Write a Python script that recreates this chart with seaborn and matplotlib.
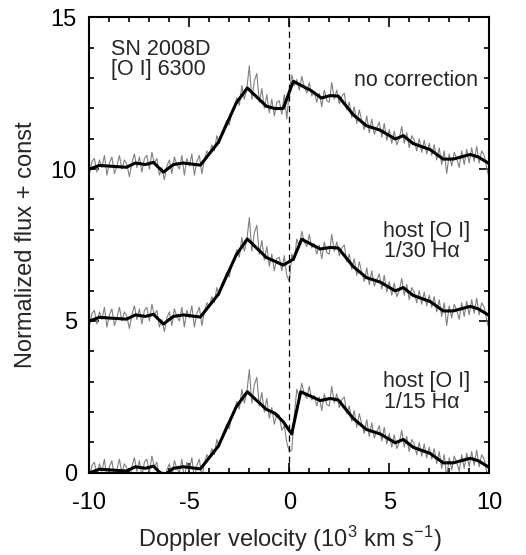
import numpy as np
import pandas as pd
import matplotlib
matplotlib.use("Agg")
import matplotlib.pyplot as plt
import seaborn as sns

# velocity grid of the raw spectrum (10^3 km/s), 0.125 step
velocity = np.round(np.arange(-10, 10.0001, 0.125), 3)

# raw [O I] profile, no host correction (flux relative to the continuum)
flux_raw = [
    -0.15, 0.25, 0.35, -0.10, 0.30, 0.05, 0.45, -0.20,
    0.20, 0.40, -0.15, 0.10, 0.45, 0.00, 0.30, 0.15,
    -0.25, 0.20, 0.50, 0.05, 0.40, -0.10, 0.35, 0.45,
    0.00, 0.55, 0.20, 0.35, -0.20, 0.05, -0.35, 0.10,
    0.30, -0.15, 0.40, 0.15, 0.00, 0.45, -0.20, 0.35,
    0.10, 0.50, -0.20, 0.25, 0.45, -0.15, 0.30, 0.60,
    0.45, 0.80, 0.60, 1.10, 0.85, 1.20, 1.40, 1.60,
    1.45, 1.90, 2.00, 2.35, 2.10, 2.75, 2.30, 2.65,
    3.40, 2.30, 2.90, 3.15, 2.20, 2.65, 2.00, 2.45,
    1.85, 2.30, 1.75, 2.20, 2.25, 1.80, 2.45, 1.65,
    2.60, 3.10, 2.75, 2.95, 2.60, 3.05, 2.70, 2.50,
    2.85, 2.40, 2.55, 2.20, 2.50, 2.05, 2.60, 2.25,
    2.20, 2.85, 2.30, 2.60, 2.15, 2.40, 2.50, 1.95,
    2.20, 1.70, 2.05, 1.50, 1.95, 1.60, 1.30, 1.75,
    1.20, 1.65, 1.15, 1.35, 1.55, 1.05, 1.50, 0.95,
    1.30, 0.85, 1.25, 0.80, 1.00, 1.40, 0.85, 1.20,
    0.70, 1.10, 0.95, 0.60, 1.00, 0.55, 0.95, 0.50,
    0.85, 0.45, 0.80, 0.30, 0.70, 0.15, 0.60, -0.15,
    0.50, 0.10, 0.55, 0.35, 0.05, 0.60, 0.15, 0.65,
    0.20, 0.70, 0.25, 0.75, 0.20, 0.60, 0.45, 0.05,
    -0.30,
]

# central part (-1.5 .. 1.5) after subtracting host [O I]
center_velocity = np.round(np.arange(-1.5, 1.5001, 0.125), 3)
flux_center_30 = [
    2.20, 2.65, 2.00, 2.45, 1.80, 2.20, 1.65, 2.05, 2.10, 1.65, 2.15, 1.50,
    1.30, 2.20, 2.00, 2.70, 2.45, 2.95, 2.60, 2.45, 2.85, 2.40, 2.55, 2.20, 2.50,
]
flux_center_15 = [
    2.20, 2.65, 2.00, 2.45, 1.80, 2.15, 1.60, 1.95, 1.90, 1.40, 1.55, 1.00,
    0.70, 0.75, 1.90, 2.75, 2.50, 2.95, 2.60, 2.45, 2.85, 2.40, 2.55, 2.20, 2.50,
]

# smoothed profiles
smooth_v_raw = [-10, -9.5, -8.15, -7.7, -7.2, -6.8, -6.3, -5.8, -5.3, -4.45, -3.55, -2.65, -2.1,
                -1.15, -0.7, -0.3, 0.2, 1.1, 1.6, 2.05, 2.45, 3.2, 3.85, 4.55, 5.3, 5.7, 6.2,
                7.05, 7.7, 8.2, 9.05, 9.45, 10]
smooth_f_raw = [0.0, 0.12, 0.06, 0.2, 0.15, 0.22, -0.1, 0.15, 0.2, 0.13, 0.88, 2.18, 2.67,
                2.07, 1.99, 2.0, 2.89, 2.58, 2.34, 2.42, 2.4, 1.79, 1.43, 1.28, 0.99, 1.1, 0.84,
                0.64, 0.33, 0.33, 0.48, 0.4, 0.18]
smooth_v_30 = [-10, -9.5, -8.15, -7.7, -7.2, -6.8, -6.3, -5.8, -5.3, -4.45, -3.55, -2.65, -2.1,
               -1.15, -0.3, 0.2, 0.62, 1.55, 2.05, 2.45, 3.2, 3.85, 4.55, 5.3, 5.7, 6.2,
               7.05, 7.7, 8.2, 9.05, 9.45, 10]
smooth_f_30 = [0.0, 0.12, 0.06, 0.2, 0.15, 0.22, -0.1, 0.15, 0.2, 0.13, 0.88, 2.18, 2.7,
               2.09, 1.84, 2.03, 2.69, 2.37, 2.42, 2.4, 1.79, 1.43, 1.28, 0.99, 1.1, 0.84,
               0.64, 0.33, 0.33, 0.48, 0.4, 0.18]
smooth_v_15 = [-10, -9.5, -8.15, -7.7, -7.2, -6.8, -6.3, -5.8, -5.3, -4.45, -3.55, -2.65, -2.1,
               -1.15, -0.72, -0.3, 0.12, 0.57, 1.55, 2.05, 2.45, 3.2, 3.85, 4.55, 5.3, 5.7, 6.2,
               7.05, 7.7, 8.2, 9.05, 9.45, 10]
smooth_f_15 = [0.0, 0.12, 0.06, 0.2, 0.15, 0.22, -0.1, 0.15, 0.2, 0.13, 0.88, 2.18, 2.67,
               2.09, 1.96, 1.68, 1.28, 2.67, 2.38, 2.45, 2.4, 1.79, 1.43, 1.28, 0.99, 1.1, 0.84,
               0.64, 0.33, 0.33, 0.48, 0.4, 0.18]

offsets = {"raw": 10, "30": 5, "15": 0}


def build_raw(center_flux):
    s = pd.Series(flux_raw, index=velocity, dtype=float)
    if center_flux is not None:
        s.loc[center_velocity] = center_flux
    return s


sns.set_style("ticks")
plt.rcParams['font.family'] = ['Liberation Sans', 'DejaVu Sans']
plt.rcParams['mathtext.fontset'] = 'custom'
plt.rcParams['mathtext.rm'] = 'Liberation Sans'
plt.rcParams['mathtext.it'] = 'Liberation Sans:italic'
plt.rcParams['axes.unicode_minus'] = False

fig = plt.figure(figsize=(5.26, 5.55), dpi=100)
ax = fig.add_axes([0.170, 0.148, 0.760, 0.821])

spectra = [
    ("raw", None, smooth_v_raw, smooth_f_raw),
    ("30", flux_center_30, smooth_v_30, smooth_f_30),
    ("15", flux_center_15, smooth_v_15, smooth_f_15),
]
for key, center, sv, sf in spectra:
    raw = build_raw(center) + offsets[key]
    sns.lineplot(x=raw.index, y=raw.values, color="#808080", lw=0.8, ax=ax)
    sns.lineplot(x=sv, y=np.array(sf) + offsets[key], color="black", lw=2.2, ax=ax)

ax.axvline(0, color="black", lw=0.9, ls=(0, (5, 3.5)))

ax.set_xlim(-10, 10)
ax.set_ylim(0, 15)
ax.set_xticks([-10, -5, 0, 5, 10])
ax.set_yticks([0, 5, 10, 15])
ax.set_xticks(np.arange(-10, 11, 1), minor=True)
ax.set_yticks(np.arange(0, 16, 1), minor=True)
ax.tick_params(which="both", direction="in", top=True, right=True, width=1.2, colors="black")
ax.tick_params(which="major", length=7, labelsize=17)
ax.tick_params(axis="x", which="major", pad=14)
ax.tick_params(axis="y", which="major", pad=9)
ax.tick_params(which="minor", length=3.8)
for sp in ax.spines.values():
    sp.set_linewidth(1.5)
    sp.set_color("black")

ax.set_xlabel("Doppler velocity (10$^3$ km s$^{-1}$)", fontsize=17, labelpad=7)
ax.set_ylabel("Normalized flux + const", fontsize=17, labelpad=10)

fs = 15.5
ax.text(-8.93, 13.77, "SN 2008D", fontsize=fs, va="baseline", ha="left")
ax.text(-8.93, 13.11, "[O I] 6300", fontsize=fs, va="baseline", ha="left")
ax.text(9.43, 12.75, "no correction", fontsize=fs, va="baseline", ha="right")
ax.text(4.67, 7.78, "host [O I]", fontsize=fs, va="baseline", ha="left")
ax.text(4.75, 7.10, "1/30 H\u03b1", fontsize=fs, va="baseline", ha="left")
ax.text(4.67, 2.84, "host [O I]", fontsize=fs, va="baseline", ha="left")
ax.text(4.75, 2.12, "1/15 H\u03b1", fontsize=fs, va="baseline", ha="left")

fig.savefig("out.png", dpi=100)
